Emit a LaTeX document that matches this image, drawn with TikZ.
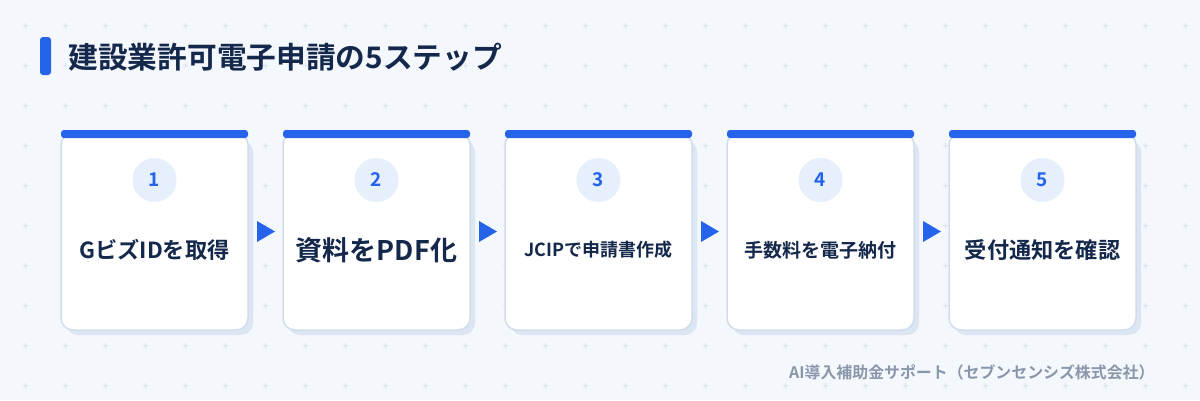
\documentclass[tikz,border=0pt]{standalone}
\usepackage{fontspec}
\setmainfont{Noto Sans CJK JP}[BoldFont={Noto Sans CJK JP Bold}]
\begin{document}
\definecolor{bg}{HTML}{F4F7FC}
\definecolor{grid}{HTML}{DCE3EF}
\definecolor{blue}{HTML}{2563EB}
\definecolor{navy}{HTML}{14284B}
\definecolor{bord}{HTML}{D2DDEC}
\definecolor{shad}{HTML}{DCE5F2}
\definecolor{circ}{HTML}{E6EFFC}
\definecolor{foot}{HTML}{8A97AB}
\begin{tikzpicture}[x=1pt,y=-1pt,
  card/.style={draw=bord,line width=1.5pt,fill=white,rounded corners=12pt},
  num/.style={circle,fill=circ,minimum size=44pt,inner sep=0pt,text=blue,font=\bfseries\fontsize{19}{19}\selectfont},
  lab/.style={text=navy,font=\bfseries},
  arr/.style={fill=blue}]
\fill[bg] (0,0) rectangle (1200,400);
\useasboundingbox (0,0) rectangle (1200,400);
\foreach \i in {0,...,29}{\foreach \j in {0,...,9}{
  \draw[grid,line width=0.8pt] (25+40*\i-2.5,25+40*\j)--++(5,0) (25+40*\i,25+40*\j-2.5)--++(0,5);}}
\fill[blue,rounded corners=3pt] (40,37) rectangle (51,75);
\node[anchor=west,text=navy,font=\bfseries\fontsize{29.7}{30}\selectfont] (title) at (65,57) {建設業許可電子申請の5ステップ};
\foreach \k/\t/\s in {1/GビズIDを取得/22.2,2/資料をPDF化/27,3/JCIPで申請書作成/18,4/手数料を電子納付/19,5/受付通知を確認/22.2}{
  \pgfmathsetmacro\xx{61+222*(\k-1)}
  \fill[shad,rounded corners=12pt] (\xx+5,140) rectangle (\xx+192,335);
  \draw[card] (\xx,133) rectangle (\xx+187,330);
  \fill[blue,rounded corners=3pt] (\xx,130) rectangle (\xx+187,138);
  \node[num] (n\k) at (\xx+93.5,180) {\k};
  \node[lab,font=\bfseries\fontsize{\s}{\s}\selectfont] (l\k) at (\xx+93.5,250) {\t};
}
\foreach \k in {1,...,4}{
  \pgfmathsetmacro\ax{257+222*(\k-1)}
  \fill[arr] (\ax,221) -- (\ax+18,231.5) -- (\ax,242) -- cycle;
}
\node[anchor=east,text=foot,font=\bfseries\fontsize{15.9}{16}\selectfont] (ft) at (1158,372) {AI導入補助金サポート（セブンセンシズ株式会社）};
\end{tikzpicture}
\end{document}
